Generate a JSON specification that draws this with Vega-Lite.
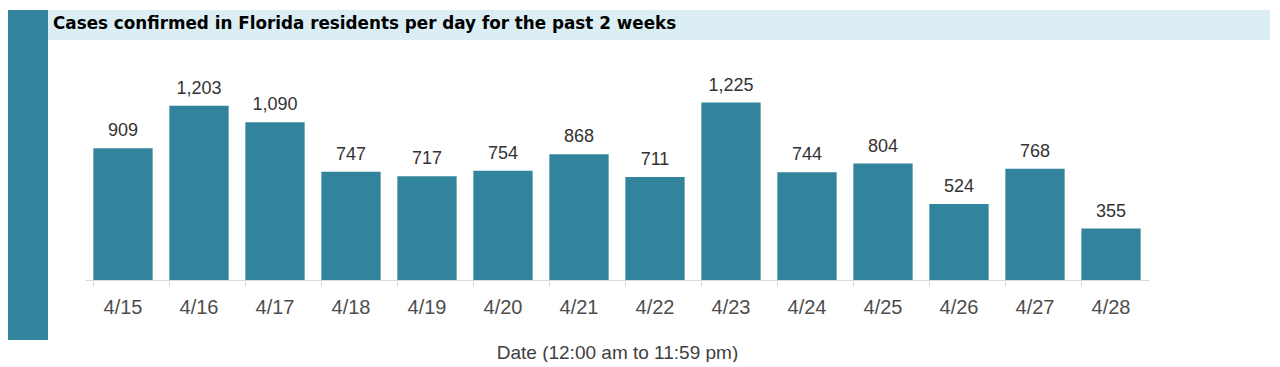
{
  "$schema": "https://vega.github.io/schema/vega-lite/v6.json",
  "background": "white",
  "padding": {"left": 8, "top": 10, "right": 0, "bottom": 0},
  "config": {"view": {"stroke": null}},
  "spacing": 0,
  "hconcat": [
    {
      "width": 40,
      "height": 330,
      "data": {"values": [{"part": "sidebar"}]},
      "mark": {"type": "rect", "color": "#31849B"}
    },
    {
      "spacing": 30,
      "vconcat": [
        {
          "width": 1222,
          "height": 30,
          "data": {"values": [{"label": "Cases confirmed in Florida residents per day for the past 2 weeks"}]},
          "layer": [
            {"mark": {"type": "rect", "color": "#DAEEF3"}},
            {
              "mark": {
                "type": "text",
                "align": "left",
                "baseline": "middle",
                "dx": 5,
                "dy": -1,
                "font": "DejaVu Sans",
                "fontSize": 16.8,
                "fontWeight": "bold",
                "color": "#000000"
              },
              "encoding": {
                "x": {"datum": 0, "type": "quantitative", "scale": {"domain": [0, 1]}, "axis": null},
                "text": {"field": "label", "type": "nominal"}
              }
            }
          ]
        },
        {
          "width": 1101,
          "height": 210,
          "data": {
            "values": [
              {"date": "4/15", "cases": 909},
              {"date": "4/16", "cases": 1203},
              {"date": "4/17", "cases": 1090},
              {"date": "4/18", "cases": 747},
              {"date": "4/19", "cases": 717},
              {"date": "4/20", "cases": 754},
              {"date": "4/21", "cases": 868},
              {"date": "4/22", "cases": 711},
              {"date": "4/23", "cases": 1225},
              {"date": "4/24", "cases": 744},
              {"date": "4/25", "cases": 804},
              {"date": "4/26", "cases": 524},
              {"date": "4/27", "cases": 768},
              {"date": "4/28", "cases": 355}
            ]
          },
          "encoding": {
            "x": {
              "field": "date",
              "type": "ordinal",
              "sort": null,
              "scale": {"paddingInner": 0.22, "paddingOuter": 0.11, "range": [37, 1101]},
              "axis": {
                "title": "Date (12:00 am to 11:59 pm)",
                "labelAngle": 0,
                "labelFont": "Liberation Sans",
                "labelFontSize": 20,
                "labelColor": "#4d4d4d",
                "labelPadding": 11,
                "tickSize": 6,
                "tickColor": "#d9d9d9",
                "domainColor": "#d9d9d9",
                "bandPosition": 0,
                "grid": false,
                "titleFont": "Liberation Sans",
                "titleFontSize": 19,
                "titleFontWeight": "normal",
                "titleColor": "#404040",
                "titlePadding": 26
              }
            },
            "y": {
              "field": "cases",
              "type": "quantitative",
              "scale": {"domain": [0, 1450]},
              "axis": null
            }
          },
          "layer": [
            {"mark": {"type": "bar", "color": "#31849B"}},
            {
              "mark": {
                "type": "text",
                "baseline": "alphabetic",
                "dy": -12,
                "font": "Liberation Sans",
                "fontSize": 18,
                "color": "#333333"
              },
              "encoding": {"text": {"field": "cases", "type": "quantitative", "format": ","}}
            }
          ]
        }
      ]
    }
  ]
}
